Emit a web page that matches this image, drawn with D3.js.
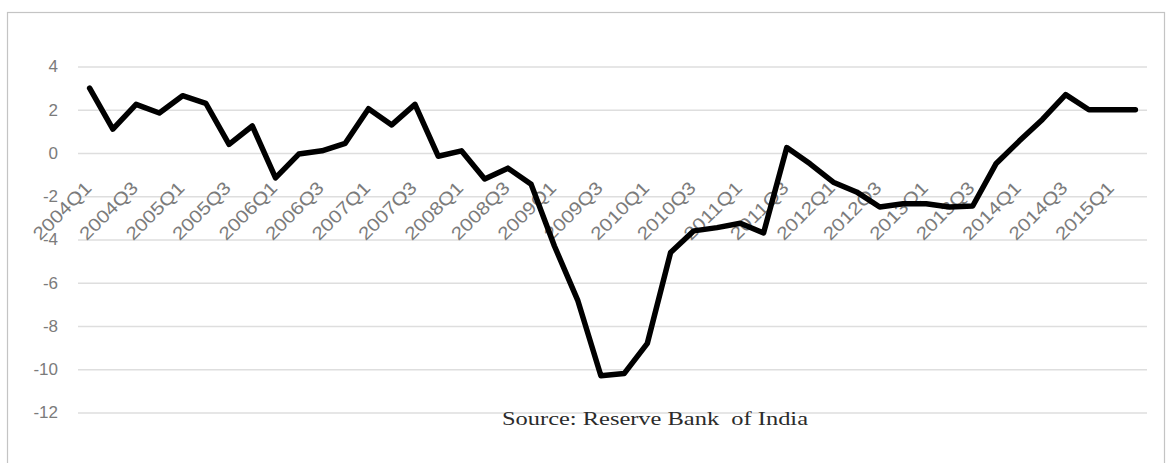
<!DOCTYPE html>
<html>
<head>
<meta charset="utf-8">
<script src="https://cdn.jsdelivr.net/npm/d3@7"></script>
<style>
  body { margin: 0; background: #fff; }
</style>
</head>
<body>
<div id="my_dataviz"></div>
<script>
// quarters on the x axis
const quarters = [
  "2004Q1", "2004Q2", "2004Q3", "2004Q4",
  "2005Q1", "2005Q2", "2005Q3", "2005Q4",
  "2006Q1", "2006Q2", "2006Q3", "2006Q4",
  "2007Q1", "2007Q2", "2007Q3", "2007Q4",
  "2008Q1", "2008Q2", "2008Q3", "2008Q4",
  "2009Q1", "2009Q2", "2009Q3", "2009Q4",
  "2010Q1", "2010Q2", "2010Q3", "2010Q4",
  "2011Q1", "2011Q2", "2011Q3", "2011Q4",
  "2012Q1", "2012Q2", "2012Q3", "2012Q4",
  "2013Q1", "2013Q2", "2013Q3", "2013Q4",
  "2014Q1", "2014Q2", "2014Q3", "2014Q4",
  "2015Q1", "2015Q2"
];

// series values
const values = [
  3.0, 1.1, 2.25, 1.85,
  2.65, 2.3, 0.4, 1.25,
  -1.15, -0.05, 0.1, 0.45,
  2.05, 1.3, 2.25, -0.15,
  0.1, -1.2, -0.7, -1.45,
  -4.3, -6.8, -10.3, -10.2,
  -8.8, -4.6, -3.6, -3.45,
  -3.25, -3.7, 0.25, -0.5,
  -1.35, -1.8, -2.5, -2.35,
  -2.35, -2.5, -2.45, -0.5,
  0.55, 1.55, 2.7, 2.0,
  2.0, 2.0
];

const yTicks = [4, 2, 0, -2, -4, -6, -8, -10, -12];
const sourceNote = "Source: Reserve Bank  of India";

const W = 1166, H = 463;

const svg = d3.select("#my_dataviz")
  .append("svg")
  .attr("width", W)
  .attr("height", H);

// outer frame
svg.append("rect")
  .attr("x", 7.5)
  .attr("y", 12.5)
  .attr("width", 1157)
  .attr("height", 460)
  .attr("fill", "none")
  .attr("stroke", "#c4c4c4")
  .attr("stroke-width", 1.2);

// scales
const x = d3.scalePoint()
  .domain(quarters)
  .range([78, 1147])
  .padding(0.5);

const y = d3.scaleLinear()
  .domain([-12, 4])
  .range([412.5, 66.5]);

// gridlines + y labels (plain hyphen for negatives, like the original)
const yAxis = svg.append("g")
  .attr("transform", "translate(78,0)")
  .call(d3.axisLeft(y).tickValues(yTicks).tickSize(-1069).tickPadding(20).tickFormat(d => String(d)));
yAxis.select(".domain").remove();
yAxis.selectAll(".tick line")
  .attr("stroke", "#dedede")
  .attr("stroke-width", 1.6);
yAxis.selectAll(".tick text")
  .attr("fill", "#7b7b7b")
  .style("font-size", "17px")
  .style("font-family", "Liberation Sans, Arial, sans-serif");

// rotated category labels, every other quarter (stretched a bit, like the scan)
svg.append("g")
  .selectAll("text")
  .data(quarters.filter((d, i) => i % 2 === 0))
  .join("text")
  .attr("transform", d => `translate(${x(d) + 3},189) rotate(-45)`)
  .attr("text-anchor", "end")
  .attr("textLength", 74)
  .attr("lengthAdjust", "spacingAndGlyphs")
  .attr("fill", "#7b7b7b")
  .style("font-size", "18px")
  .style("font-family", "Liberation Sans, Arial, sans-serif")
  .text(d => d);

// the line
const line = d3.line()
  .x((d, i) => x(quarters[i]))
  .y(d => y(d));

svg.append("path")
  .datum(values)
  .attr("d", line)
  .attr("fill", "none")
  .attr("stroke", "#000")
  .attr("stroke-width", 5.5)
  .attr("stroke-linejoin", "round")
  .attr("stroke-linecap", "round");

// source note
svg.append("text")
  .attr("x", 502)
  .attr("y", 425)
  .attr("textLength", 306)
  .attr("lengthAdjust", "spacingAndGlyphs")
  .attr("fill", "#2b2b2b")
  .style("font-size", "18px")
  .style("font-family", "Liberation Serif, Times New Roman, serif")
  .style("white-space", "pre")
  .text(sourceNote);
</script>
</body>
</html>
